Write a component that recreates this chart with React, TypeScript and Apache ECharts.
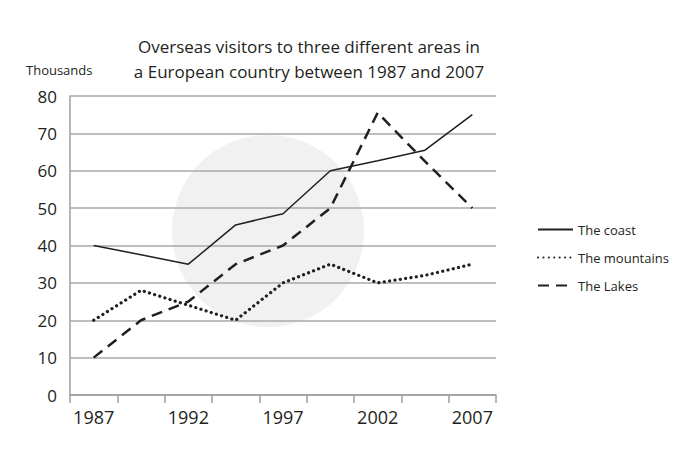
import React, { useEffect, useRef } from "react";
import * as echarts from "echarts";

const categories = ["1987", "", "1992", "", "1997", "", "2002", "", "2007"];
const coast = [40, 37.5, 35, 45.5, 48.5, 60, 62.7, 65.5, 75];
const mountains = [20, 28, 24, 20, 30, 35, 30, 32, 35];
const lakes = [10, 20, 25, 35, 40, 50, 75.5, 62.5, 50];
const seriesNames = ["The coast", "The mountains", "The Lakes"];

const FONT = "'Open Sans', 'Noto Sans', sans-serif";

export default function App() {
  const ref = useRef<HTMLDivElement>(null);
  useEffect(() => {
    if (!ref.current) return;
    const chart = echarts.init(ref.current, undefined, { renderer: "svg" });
    chart.setOption({
      animation: false,
      backgroundColor: "#ffffff",
      textStyle: { fontFamily: FONT, color: "#231f20" },
      title: [
        {
          text: "Overseas visitors to three different areas in\na European country between 1987 and 2007",
          left: 304,
          top: 29,
          textAlign: "center",
          textStyle: { fontFamily: FONT, fontSize: 17, fontWeight: "normal", color: "#231f20", lineHeight: 25 },
        },
        {
          text: "Thousands",
          left: 21,
          top: 58,
          textStyle: { fontFamily: FONT, fontSize: 13, fontWeight: "normal", color: "#231f20" },
        },
      ],
      graphic: {
        elements: [
          {
            type: "circle",
            z: -10,
            silent: true,
            shape: { cx: 268, cy: 231, r: 96 },
            style: { fill: "#f1f1f1" },
          },
        ],
      },
      legend: {
        orient: "vertical",
        left: 532,
        top: 218,
        itemWidth: 35,
        itemHeight: 12,
        itemGap: 15,
        itemStyle: { opacity: 0 },
        textStyle: { fontFamily: FONT, fontSize: 13, color: "#231f20" },
        data: seriesNames,
      },
      grid: { left: 70, right: 204, top: 96, bottom: 64 },
      xAxis: {
        type: "category",
        data: categories,
        boundaryGap: true,
        axisLine: { lineStyle: { color: "#9e9e9e", width: 1.5 } },
        axisTick: { show: true, interval: 0, length: 8, lineStyle: { color: "#9e9e9e", width: 1.5 } },
        axisLabel: { interval: 0, fontFamily: FONT, fontSize: 18, color: "#231f20", margin: 13 },
      },
      yAxis: {
        type: "value",
        min: 0,
        max: 80,
        interval: 10,
        axisLine: { show: true, lineStyle: { color: "#9e9e9e", width: 1.5 } },
        axisTick: { show: false },
        axisLabel: { fontFamily: FONT, fontSize: 17, color: "#231f20", margin: 13 },
        splitLine: { lineStyle: { color: "#a8a8a8", width: 1.5 } },
      },
      series: [
        {
          name: seriesNames[0],
          type: "line",
          data: coast,
          symbol: "none",
          lineStyle: { color: "#231f20", width: 1.5, type: "solid" },
          itemStyle: { color: "#231f20" },
        },
        {
          name: seriesNames[1],
          type: "line",
          data: mountains,
          symbol: "none",
          lineStyle: { color: "#231f20", width: 3.2, type: [0.1, 5.3], cap: "round" },
          itemStyle: { color: "#231f20" },
        },
        {
          name: seriesNames[2],
          type: "line",
          data: lakes,
          symbol: "none",
          lineStyle: { color: "#231f20", width: 2.5, type: [11, 7] },
          itemStyle: { color: "#231f20" },
        },
      ],
    });
    return () => chart.dispose();
  }, []);
  return <div ref={ref} style={{ width: 700, height: 459, position: "absolute", left: 0, top: 0 }} />;
}
